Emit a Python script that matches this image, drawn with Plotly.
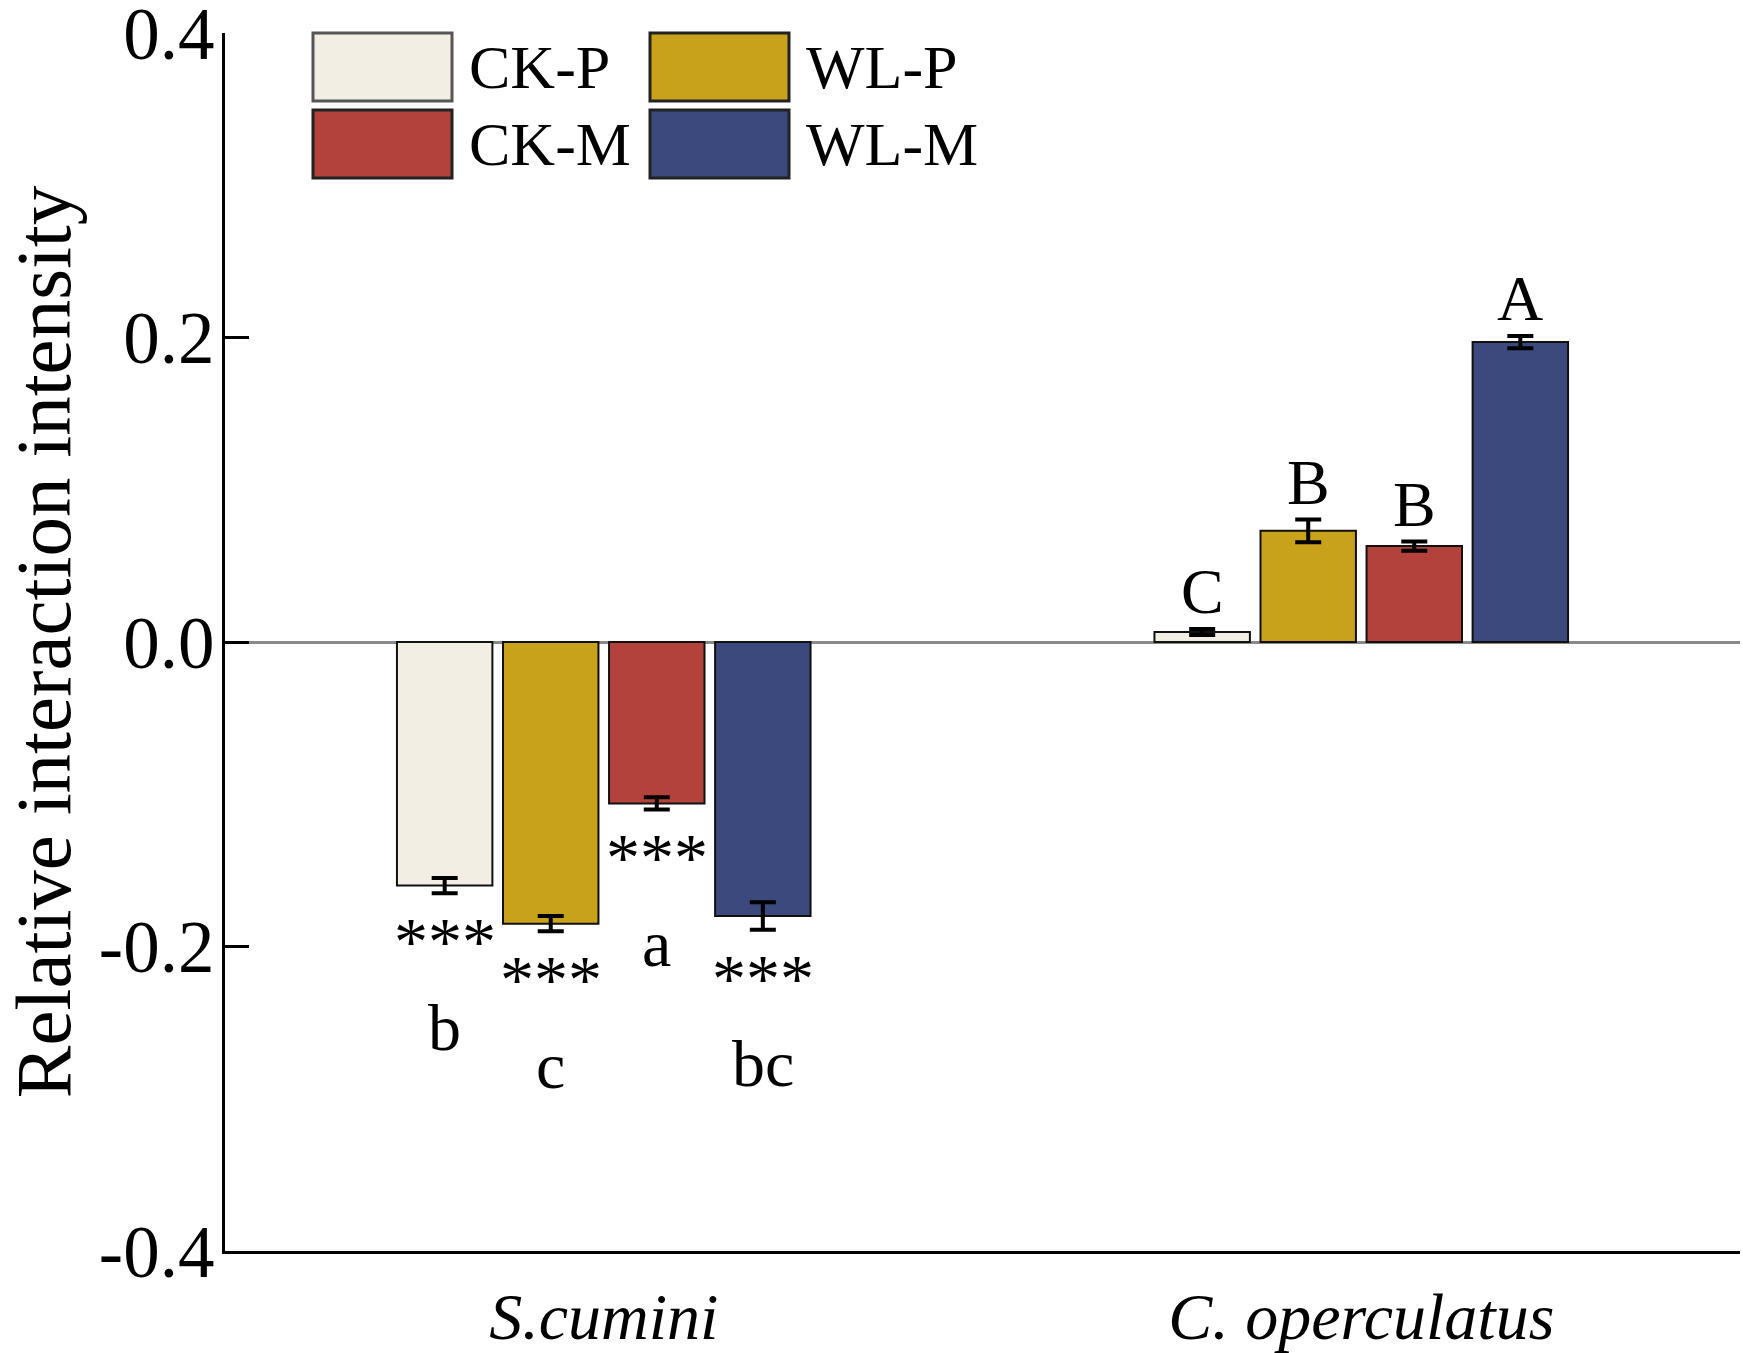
import plotly.graph_objects as go

# ---------------- data ----------------
species = ["S.cumini", "C. operculatus"]
species_labels = ["<i>S.cumini</i>", "<i>C. operculatus</i>"]
treatments = ["CK-P", "WL-P", "CK-M", "WL-M"]
colors = ["#F3EEE3", "#C8A21A", "#B3423D", "#3B497C"]

ck_p = [-0.160, 0.0066]
wl_p = [-0.185, 0.073]
ck_m = [-0.106, 0.063]
wl_m = [-0.180, 0.197]
values = [ck_p, wl_p, ck_m, wl_m]

ck_p_err = [0.005, 0.002]
wl_p_err = [0.005, 0.0075]
ck_m_err = [0.004, 0.003]
wl_m_err = [0.009, 0.004]
errors = [ck_p_err, wl_p_err, ck_m_err, wl_m_err]

sig_marks = [["***", ""], ["***", ""], ["***", ""], ["***", ""]]
letters = [["b", "C"], ["c", "B"], ["a", "B"], ["bc", "A"]]

y_ticks = [-0.4, -0.2, 0.0, 0.2, 0.4]
y_ticktext = ["-0.4", "-0.2", "0.0", "0.2", "0.4"]

# ---------------- style ----------------
FONT = "Liberation Serif"
BARGAP = 0.44
BARGROUPGAP = 0.1
W, H = 1743, 1353
ML, MR, MT, MB = 225, 3, 33, 102

fig = go.Figure()
xidx = list(range(len(species)))
for i, t in enumerate(treatments):
    fig.add_trace(go.Bar(
        x=xidx, y=values[i], name=t,
        marker=dict(color=colors[i], line=dict(color="#111111", width=2)),
        error_y=dict(type="data", array=errors[i], color="#000000",
                     thickness=4, width=13),
        showlegend=False,
    ))

# annotations for significance / letters
slot = (1 - BARGAP) / len(treatments)
for i in range(len(treatments)):
    for j in range(len(species)):
        xpos = j + (i - (len(treatments) - 1) / 2) * slot
        v = values[i][j]
        e = errors[i][j]
        if v < 0:
            end = v - e
            if sig_marks[i][j]:
                fig.add_annotation(x=xpos, y=end, text=sig_marks[i][j],
                                   showarrow=False, yanchor="middle",
                                   yshift=-48, font=dict(family=FONT, size=68, color="black"))
            fig.add_annotation(x=xpos, y=end, text=letters[i][j],
                               showarrow=False, yanchor="middle",
                               yshift=-134, font=dict(family=FONT, size=66, color="black"))
        else:
            end = v + e
            fig.add_annotation(x=xpos, y=end, text=letters[i][j],
                               showarrow=False, yanchor="middle",
                               yshift=37, font=dict(family=FONT, size=64, color="black"))

# custom legend (large swatches)
PW = W - ML - MR
PH = H - MT - MB
leg_x0 = (313 - ML) / PW
sw_w = 139 / PW
col_step = 337 / PW
txt_gap = 15 / PW
row_h = 68 / PH
row_step = 77 / PH
for k, t in enumerate(treatments):
    row, col = divmod(k, 2)
    x0 = leg_x0 + col * col_step
    y1 = 1.0 - row * row_step
    y0 = y1 - row_h
    fig.add_shape(type="rect", xref="paper", yref="paper",
                  x0=x0, x1=x0 + sw_w, y0=y0, y1=y1,
                  fillcolor=colors[k],
                  line=dict(color="#555555" if k == 0 else "#222222", width=3))
    fig.add_annotation(xref="paper", yref="paper", x=x0 + sw_w + txt_gap,
                       y=(y0 + y1) / 2, text=t, showarrow=False,
                       xanchor="left", yanchor="middle",
                       font=dict(family=FONT, size=62, color="black"))

fig.update_layout(
    width=W, height=H,
    margin=dict(l=ML, r=MR, t=MT, b=MB, autoexpand=False),
    plot_bgcolor="white", paper_bgcolor="white",
    barmode="group", bargap=BARGAP, bargroupgap=BARGROUPGAP,
    font=dict(family=FONT, color="black"),
    showlegend=False,
)
fig.update_xaxes(
    tickmode="array", tickvals=xidx, ticktext=species_labels,
    range=[-0.5, len(species) - 0.5],
    showline=True, linecolor="black", linewidth=3,
    ticks="", showgrid=False, zeroline=False,
    tickfont=dict(family=FONT, size=66, color="black"),
    ticklabelstandoff=6, automargin=False,
)
fig.update_yaxes(
    range=[-0.4, 0.4], tickmode="array", tickvals=y_ticks, ticktext=y_ticktext,
    showline=True, linecolor="black", linewidth=3,
    ticks="inside", ticklen=24, tickwidth=3, tickcolor="black",
    showgrid=False,
    zeroline=True, zerolinecolor="#8a8a8a", zerolinewidth=3,
    tickfont=dict(family=FONT, size=73, color="black"),
    ticklabelstandoff=-7, ticklabeloverflow="allow", automargin=False,
    title=dict(text="Relative interaction intensity",
               font=dict(family=FONT, size=79, color="black"), standoff=62),
)

fig.write_html(
    "out.html",
    config={"displayModeBar": False},
    post_script="document.body.style.margin='0';document.body.style.overflow='hidden';",
)
